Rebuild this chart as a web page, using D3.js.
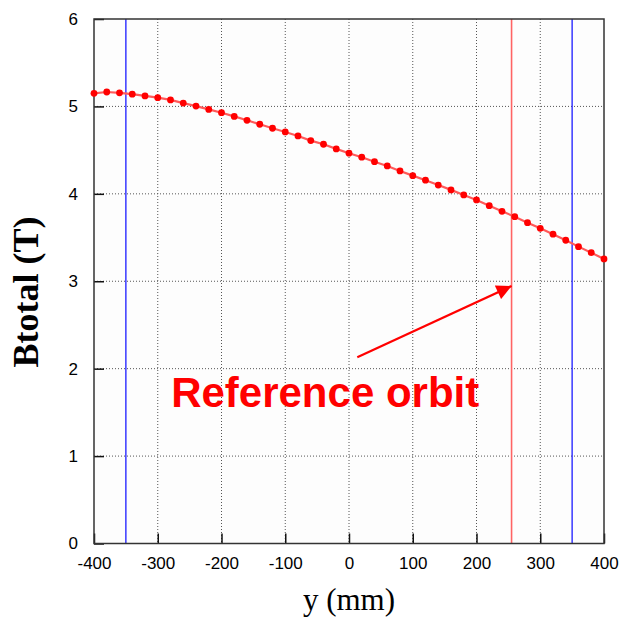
<!DOCTYPE html>
<html>
<head>
<meta charset="utf-8">
<script src="https://cdn.jsdelivr.net/npm/d3@7"></script>
<style>
  body { margin: 0; background: #fff; }
  .tick text { font-family: "Liberation Sans", Arial, sans-serif; font-size: 17px; fill: #000; }
</style>
</head>
<body>
<div class="chart"></div>
<script>
// B field along y, every 20 mm
var yPos = [-400, -380, -360, -340, -320, -300, -280, -260, -240, -220, -200, -180, -160, -140, -120, -100,
  -80, -60, -40, -20, 0, 20, 40, 60, 80, 100, 120, 140, 160, 180, 200, 220, 240, 260, 280, 300, 320, 340, 360, 380, 400];
var btotal = [5.15, 5.165, 5.155, 5.14, 5.12, 5.10, 5.074, 5.038, 5.004, 4.966, 4.928, 4.886, 4.841, 4.796, 4.75, 4.708,
  4.662, 4.609, 4.567, 4.514, 4.465, 4.419, 4.368, 4.319, 4.262, 4.208, 4.156, 4.10, 4.045, 3.987, 3.93, 3.865, 3.80,
  3.739, 3.67, 3.606, 3.538, 3.469, 3.396, 3.327, 3.255];
var xTicks = [-400, -300, -200, -100, 0, 100, 200, 300, 400];
var yTicks = [0, 1, 2, 3, 4, 5, 6];
var blueLines = [-350, 350];
var refOrbit = 255;
// annotation arrow (data units)
var arrowFrom = [13, 2.13];
var arrowTo = [255, 2.946];
var labelAt = [-279, 1.565];

var svgWidth = 621;
var svgHeight = 617;
var margin = { top: 19, right: 17, bottom: 73.5, left: 94 };
var width = svgWidth - margin.left - margin.right;
var height = svgHeight - margin.top - margin.bottom;

var svg = d3.select(".chart")
  .append("svg")
  .attr("width", svgWidth)
  .attr("height", svgHeight);

var chartGroup = svg.append("g")
  .attr("transform", `translate(${margin.left}, ${margin.top})`);

var x = d3.scaleLinear().domain([-400, 400]).range([0, width]);
var y = d3.scaleLinear().domain([0, 6]).range([height, 0]);

chartGroup.append("rect")
  .attr("width", width)
  .attr("height", height)
  .attr("fill", "#fdfdfd");

// dotted grid
chartGroup.selectAll(".gx")
  .data(xTicks.slice(1, -1))
  .enter().append("line")
  .attr("x1", d => x(d)).attr("x2", d => x(d))
  .attr("y1", 0).attr("y2", height)
  .attr("stroke", "#555").attr("stroke-width", 1)
  .attr("stroke-dasharray", "1,2");

chartGroup.selectAll(".gy")
  .data(yTicks.slice(1, -1))
  .enter().append("line")
  .attr("y1", d => y(d)).attr("y2", d => y(d))
  .attr("x1", 0).attr("x2", width)
  .attr("stroke", "#555").attr("stroke-width", 1)
  .attr("stroke-dasharray", "1,2");

// axes with inward ticks, plain hyphen minus
var bottomAxis = d3.axisBottom(x).tickValues(xTicks).tickFormat(d => String(d))
  .tickSizeInner(-10).tickSizeOuter(0).tickPadding(16);
var leftAxis = d3.axisLeft(y).tickValues(yTicks).tickFormat(d => String(d))
  .tickSizeInner(-10).tickSizeOuter(0).tickPadding(16);

var xAxis = chartGroup.append("g")
  .attr("transform", `translate(0, ${height})`)
  .call(bottomAxis);
xAxis.select(".domain").remove();
xAxis.selectAll("line").attr("stroke", "#111").attr("stroke-width", 1.5);
xAxis.selectAll("text").attr("dy", "0.55em");

var yAxis = chartGroup.append("g").call(leftAxis);
yAxis.select(".domain").remove();
yAxis.selectAll("line").attr("stroke", "#111").attr("stroke-width", 1.5);

// vertical markers
chartGroup.selectAll(".blue")
  .data(blueLines)
  .enter().append("line")
  .attr("x1", d => x(d)).attr("x2", d => x(d))
  .attr("y1", 0).attr("y2", height)
  .attr("stroke", "#1a1aff").attr("stroke-width", 1.3);

chartGroup.append("line")
  .attr("x1", x(refOrbit)).attr("x2", x(refOrbit))
  .attr("y1", 0).attr("y2", height)
  .attr("stroke", "#ff6464").attr("stroke-width", 1.6);

// frame
chartGroup.append("rect")
  .attr("width", width)
  .attr("height", height)
  .attr("fill", "none")
  .attr("stroke", "#333")
  .attr("stroke-width", 1.5);

// curve
var data = yPos.map((d, i) => ({ y: d, b: btotal[i] }));

chartGroup.append("path")
  .datum(data)
  .attr("fill", "none")
  .attr("stroke", "#ff5a5a")
  .attr("stroke-width", 2.2)
  .attr("d", d3.line().x(d => x(d.y)).y(d => y(d.b)));

chartGroup.selectAll(".pt")
  .data(data)
  .enter().append("circle")
  .attr("cx", d => x(d.y))
  .attr("cy", d => y(d.b))
  .attr("r", 3.4)
  .attr("fill", "#ff0000");

// arrow + label
svg.append("defs").append("marker")
  .attr("id", "head")
  .attr("viewBox", "0 0 10 10")
  .attr("refX", 10).attr("refY", 5)
  .attr("markerUnits", "userSpaceOnUse")
  .attr("markerWidth", 17).attr("markerHeight", 15)
  .attr("orient", "auto")
  .append("path")
  .attr("d", "M0,0L10,5L0,10Z")
  .attr("fill", "#ff0000");

chartGroup.append("line")
  .attr("x1", x(arrowFrom[0])).attr("y1", y(arrowFrom[1]))
  .attr("x2", x(arrowTo[0])).attr("y2", y(arrowTo[1]))
  .attr("stroke", "#ff0000")
  .attr("stroke-width", 2.2)
  .attr("marker-end", "url(#head)");

chartGroup.append("text")
  .attr("x", x(labelAt[0]))
  .attr("y", y(labelAt[1]))
  .attr("font-family", "Liberation Sans, Arial, sans-serif")
  .attr("font-weight", "bold")
  .attr("font-size", "42px")
  .attr("fill", "#ff0000")
  .text("Reference orbit");

// axis titles
svg.append("text")
  .attr("x", margin.left + width / 2)
  .attr("y", 610)
  .attr("text-anchor", "middle")
  .attr("font-family", "Liberation Serif, Times New Roman, serif")
  .attr("font-size", "31px")
  .text("y (mm)");

svg.append("text")
  .attr("transform", "translate(38, 292) rotate(-90)")
  .attr("text-anchor", "middle")
  .attr("font-family", "Liberation Serif, Times New Roman, serif")
  .attr("font-weight", "bold")
  .attr("font-size", "36px")
  .text("Btotal (T)");
</script>
</body>
</html>
